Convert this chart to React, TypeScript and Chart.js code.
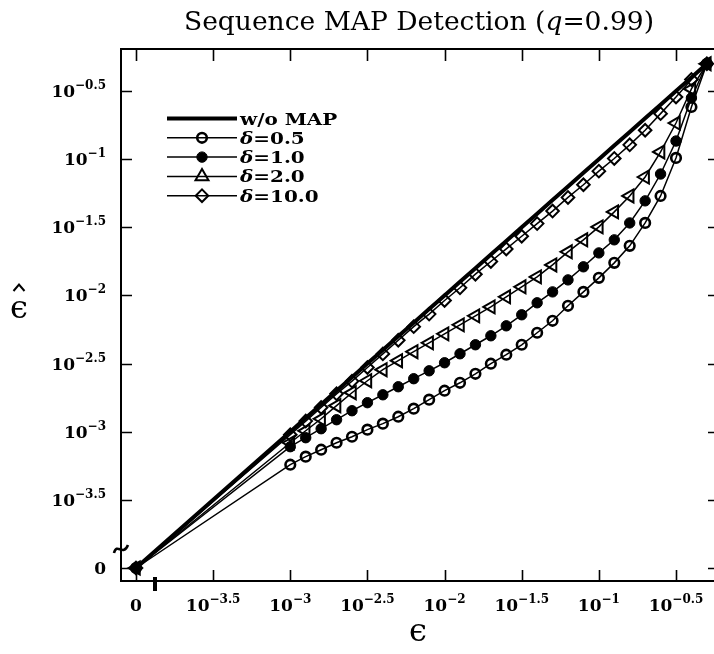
import React, { useEffect, useRef } from 'react';
import { Chart, registerables } from 'chart.js';

Chart.register(...registerables);

// ---------------- data (log10 values; both axes are log axes broken at 0) ----------------
const ZERO_POS = -4; // where the value 0 sits on the broken log axes
const EPS_LOG = [-3.0, -2.9, -2.8, -2.7, -2.6, -2.5, -2.4, -2.3, -2.2, -2.1, -2.0, -1.9, -1.8, -1.7, -1.6, -1.5, -1.4, -1.3, -1.2, -1.1, -1.0, -0.9, -0.8, -0.7, -0.6, -0.5, -0.4, -0.3];
const WO_MAP = [-3.0, -2.9, -2.8, -2.7, -2.6, -2.5, -2.4, -2.3, -2.2, -2.1, -2.0, -1.9, -1.8, -1.7, -1.6, -1.5, -1.4, -1.3, -1.2, -1.1, -1.0, -0.9, -0.8, -0.7, -0.6, -0.5, -0.4, -0.3];
const DELTA_05 = [-3.242, -3.183, -3.132, -3.081, -3.037, -2.985, -2.941, -2.890, -2.831, -2.765, -2.699, -2.641, -2.575, -2.501, -2.435, -2.362, -2.274, -2.186, -2.076, -1.974, -1.871, -1.761, -1.636, -1.468, -1.270, -0.991, -0.617, -0.3];
const DELTA_1 = [-3.110, -3.044, -2.978, -2.912, -2.846, -2.787, -2.729, -2.670, -2.611, -2.553, -2.494, -2.428, -2.362, -2.296, -2.223, -2.142, -2.054, -1.974, -1.886, -1.790, -1.688, -1.592, -1.468, -1.306, -1.109, -0.867, -0.551, -0.3];
const DELTA_2 = [-3.081, -2.993, -2.905, -2.809, -2.714, -2.626, -2.545, -2.479, -2.413, -2.348, -2.282, -2.216, -2.150, -2.084, -2.010, -1.937, -1.864, -1.776, -1.680, -1.592, -1.497, -1.387, -1.270, -1.131, -0.947, -0.735, -0.485, -0.3];
const DELTA_10 = [-3.022, -2.922, -2.822, -2.722, -2.629, -2.529, -2.429, -2.329, -2.229, -2.137, -2.037, -1.944, -1.844, -1.751, -1.659, -1.566, -1.473, -1.381, -1.281, -1.188, -1.088, -0.995, -0.895, -0.788, -0.666, -0.544, -0.415, -0.3];

const SERIES_NAMES = ['w/o MAP', 'δ=0.5', 'δ=1.0', 'δ=2.0', 'δ=10.0'];
const SERIES_VALUES = [WO_MAP, DELTA_05, DELTA_1, DELTA_2, DELTA_10];

const TICK_POS = [-4, -3.5, -3, -2.5, -2, -1.5, -1, -0.5];
const TICK_LABELS = ['0', '10^−3.5', '10^−3', '10^−2.5', '10^−2', '10^−1.5', '10^−1', '10^−0.5'];

// ---------------- styles ----------------
type Sty = { lw: number; ps: string | false; r: number; bw: number; fill: boolean; rot: number; legRot: number };
const STYLES: Sty[] = [
  { lw: 4, ps: false, r: 0, bw: 0, fill: false, rot: 0, legRot: 0 },
  { lw: 1.5, ps: 'circle', r: 4.8, bw: 2.6, fill: false, rot: 0, legRot: 0 },
  { lw: 1.5, ps: 'circle', r: 5.2, bw: 1, fill: true, rot: 0, legRot: 0 },
  { lw: 1.5, ps: 'triangle', r: 7.5, bw: 2, fill: false, rot: 270, legRot: 0 },
  { lw: 1.5, ps: 'rectRot', r: 6.3, bw: 2, fill: false, rot: 0, legRot: 0 },
];

const W = 740;
const H = 654;
const AREA = { left: 121, top: 49, right: 719, bottom: 581 };
const X_RANGE = { min: -4.0972, max: -0.2213 };
const Y_RANGE = { min: -4.0954, max: -0.1918 };

const SERIF = '"DejaVu Serif", "Liberation Serif", serif';

type Run = { t: string; f: string; dy?: number };
function runsWidth(ctx: CanvasRenderingContext2D, runs: Run[]) {
  let w = 0;
  for (const r of runs) { ctx.font = r.f; w += ctx.measureText(r.t).width; }
  return w;
}
function drawRuns(ctx: CanvasRenderingContext2D, runs: Run[], x: number, y: number, align: 'left' | 'center' | 'right', target?: number, scaleX?: number) {
  const w = runsWidth(ctx, runs);
  const s = target ? target / w : scaleX || 1;
  const ww = w * s;
  const start = align === 'left' ? x : align === 'center' ? x - ww / 2 : x - ww;
  ctx.save();
  ctx.translate(start, y);
  ctx.scale(s, 1);
  ctx.textAlign = 'left';
  ctx.textBaseline = 'alphabetic';
  let cx = 0;
  for (const r of runs) {
    ctx.font = r.f;
    ctx.fillText(r.t, cx, r.dy || 0);
    cx += ctx.measureText(r.t).width;
  }
  ctx.restore();
}
function tickRuns(label: string): Run[] {
  const [base, exp] = label.split('^');
  const runs: Run[] = [{ t: base, f: `bold 17px ${SERIF}` }];
  if (exp) runs.push({ t: exp, f: `bold 12px ${SERIF}`, dy: -8 });
  return runs;
}

function drawMarker(ctx: CanvasRenderingContext2D, s: Sty, x: number, y: number, rotDeg: number) {
  if (!s.ps) return;
  ctx.save();
  ctx.beginPath();
  const r = s.r;
  const rad = (rotDeg * Math.PI) / 180;
  if (s.ps === 'circle') {
    ctx.arc(x, y, r, 0, Math.PI * 2);
  } else if (s.ps === 'triangle') {
    let a = rad;
    for (let k = 0; k < 3; k++) {
      const px = x + Math.sin(a) * r;
      const py = y - Math.cos(a) * r;
      if (k === 0) ctx.moveTo(px, py); else ctx.lineTo(px, py);
      a += (2 * Math.PI) / 3;
    }
    ctx.closePath();
  } else if (s.ps === 'rectRot') {
    ctx.moveTo(x, y - r); ctx.lineTo(x + r, y); ctx.lineTo(x, y + r); ctx.lineTo(x - r, y); ctx.closePath();
  }
  ctx.lineWidth = s.bw;
  ctx.strokeStyle = '#000';
  ctx.fillStyle = '#000';
  if (s.fill) ctx.fill();
  ctx.stroke();
  ctx.restore();
}

const framePlugin = {
  id: 'frame',
  beforeDatasetsDraw(chart: any) {
    const { ctx, chartArea: a, scales } = chart;
    const x = scales.x, y = scales.y;
    ctx.save();
    ctx.strokeStyle = '#000';
    ctx.lineWidth = 2;
    ctx.strokeRect(a.left, a.top, a.right - a.left, a.bottom - a.top);
    ctx.lineWidth = 1.6;
    ctx.beginPath();
    for (const t of TICK_POS) {
      const px = Math.round(x.getPixelForValue(t)) + 0.5;
      ctx.moveTo(px, a.bottom); ctx.lineTo(px, a.bottom - 11);
      ctx.moveTo(px, a.top); ctx.lineTo(px, a.top + 12);
      const py = Math.round(y.getPixelForValue(t)) + 0.5;
      ctx.moveTo(a.left, py); ctx.lineTo(a.left + 11, py);
      ctx.moveTo(a.right, py); ctx.lineTo(a.right - 11, py);
    }
    ctx.stroke();
    // axis-break marks
    ctx.fillStyle = '#000';
    ctx.fillRect(153, 577, 4, 14);
    ctx.lineWidth = 2.6;
    ctx.beginPath();
    ctx.moveTo(114, 553);
    ctx.bezierCurveTo(117, 542, 123, 557, 128, 545);
    ctx.stroke();
    ctx.restore();
  },
  afterDraw(chart: any) {
    const { ctx, chartArea: a, scales } = chart;
    const x = scales.x, y = scales.y;
    ctx.save();
    ctx.fillStyle = '#000';
    // tick labels
    TICK_POS.forEach((t, i) => {
      const px = x.getPixelForValue(t);
      drawRuns(ctx, tickRuns(TICK_LABELS[i]), px, a.bottom + 30, 'center');
      const py = y.getPixelForValue(t);
      drawRuns(ctx, tickRuns(TICK_LABELS[i]), a.left - 15, py + 6, 'right');
    });
    // title
    drawRuns(ctx, [
      { t: 'Sequence MAP Detection (', f: `26px ${SERIF}` },
      { t: 'q', f: `italic 26px ${SERIF}` },
      { t: '=0.99)', f: `26px ${SERIF}` },
    ], 419, 30, 'center', 470);
    // axis titles
    ctx.font = `32px ${SERIF}`;
    ctx.textAlign = 'center';
    ctx.textBaseline = 'alphabetic';
    ctx.fillText('ϵ', 418, 641);
    ctx.fillText('ϵ', 19, 318);
    // hat over the y-axis epsilon
    ctx.strokeStyle = '#000';
    ctx.lineWidth = 2;
    ctx.beginPath();
    ctx.moveTo(13.5, 291); ctx.lineTo(19, 284.5); ctx.lineTo(24.5, 291);
    ctx.stroke();
    // legend
    SERIES_NAMES.forEach((name, i) => {
      const s = STYLES[i];
      const ly = 118.5 + i * 19.3;
      ctx.save();
      ctx.strokeStyle = '#000';
      ctx.lineWidth = s.lw;
      ctx.beginPath();
      ctx.moveTo(167, ly); ctx.lineTo(237, ly);
      ctx.stroke();
      ctx.restore();
      drawMarker(ctx, s, 202, ly, s.legRot);
      const runs: Run[] = name.startsWith('δ')
        ? [{ t: 'δ', f: `italic bold 17.5px ${SERIF}` }, { t: name.slice(1), f: `bold 17.5px ${SERIF}` }]
        : [{ t: name, f: `bold 17.5px ${SERIF}` }];
      drawRuns(ctx, runs, 240, ly + 6, 'left', undefined, 1.14);
    });
    ctx.restore();
  },
};

export default function App() {
  const ref = useRef<HTMLCanvasElement | null>(null);
  useEffect(() => {
    document.body.style.margin = '0';
    document.body.style.overflow = 'hidden';
    const canvas = ref.current!;
    const datasets = SERIES_VALUES.map((vals, i) => {
      const s = STYLES[i];
      return {
        label: SERIES_NAMES[i],
        data: [{ x: ZERO_POS, y: ZERO_POS }, ...EPS_LOG.map((e, k) => ({ x: e, y: vals[k] }))],
        borderColor: '#000',
        borderWidth: s.lw,
        pointStyle: s.ps,
        pointRadius: s.r,
        pointBorderWidth: s.bw,
        pointBorderColor: '#000',
        pointBackgroundColor: s.fill ? '#000' : 'rgba(0,0,0,0)',
        pointRotation: s.rot,
        tension: 0,
        fill: false,
        clip: false as any,
      };
    });
    const chart = new Chart(canvas, {
      type: 'line',
      data: { datasets: datasets as any },
      options: {
        responsive: false,
        maintainAspectRatio: false,
        animation: false,
        devicePixelRatio: 1,
        layout: { padding: { left: AREA.left, top: AREA.top, right: W - AREA.right, bottom: H - AREA.bottom } },
        plugins: { legend: { display: false }, tooltip: { enabled: false }, title: { display: false } },
        scales: {
          x: { type: 'linear', display: false, min: X_RANGE.min, max: X_RANGE.max },
          y: { type: 'linear', display: false, min: Y_RANGE.min, max: Y_RANGE.max },
        },
      },
      plugins: [framePlugin],
    });
    return () => chart.destroy();
  }, []);
  return (
    <div style={{ width: 714, height: 654, overflow: 'hidden', background: '#fff' }}>
      <canvas ref={ref} width={W} height={H} style={{ display: 'block' }} />
    </div>
  );
}
